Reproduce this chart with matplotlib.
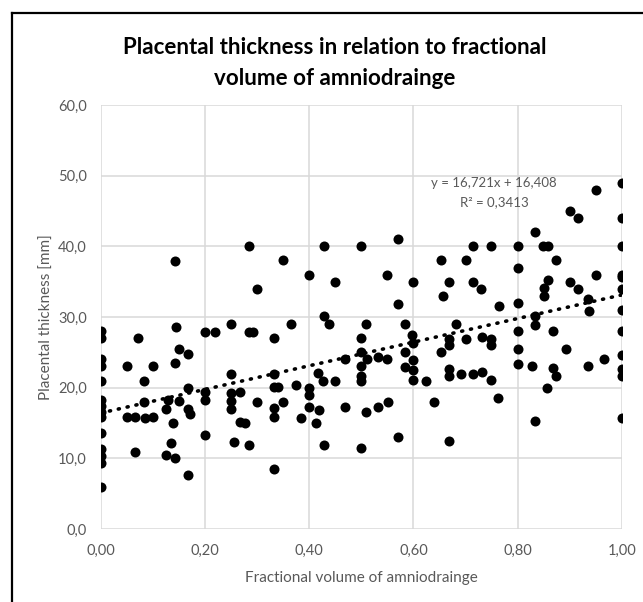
import numpy as np
import matplotlib.pyplot as plt
from matplotlib.lines import Line2D

plt.rcParams['font.family'] = ['Lato', 'DejaVu Sans']

# fractional volume of amniodrainage (x) and placental thickness in mm (y)
frac_volume = [
    0.0, 0.0, 0.0, 0.0, 0.0, 0.0, 0.0, 0.0, 0.0, 0.0, 0.0, 0.0, 0.0, 0.0,
    0.05, 0.05, 0.066, 0.066, 0.072, 0.083, 0.083, 0.085, 0.1, 0.1,
    0.125, 0.125, 0.13, 0.134, 0.138, 0.143, 0.143, 0.143, 0.145, 0.15, 0.15,
    0.167, 0.167, 0.167, 0.172, 0.167,
    0.2, 0.2, 0.2, 0.2, 0.219, 0.25, 0.25, 0.25, 0.25, 0.25, 0.256,
    0.267, 0.267, 0.276, 0.285, 0.285, 0.292, 0.285, 0.3, 0.3,
    0.333, 0.333, 0.333, 0.34, 0.333, 0.333, 0.333, 0.35, 0.35, 0.365, 0.375, 0.384,
    0.4, 0.4, 0.4, 0.4, 0.413, 0.417, 0.418, 0.426, 0.429, 0.429, 0.429, 0.438,
    0.45, 0.45, 0.468, 0.468,
    0.5, 0.5, 0.5, 0.5, 0.5, 0.5, 0.5, 0.508, 0.51, 0.508,
    0.532, 0.532, 0.55, 0.55, 0.552, 0.571, 0.571, 0.571, 0.583, 0.584, 0.584,
    0.597, 0.6, 0.6, 0.6, 0.6, 0.6, 0.625, 0.639,
    0.652, 0.652, 0.656, 0.668, 0.668, 0.668, 0.668, 0.668, 0.668, 0.682, 0.691,
    0.701, 0.701, 0.715, 0.715, 0.715, 0.73, 0.732, 0.732,
    0.748, 0.748, 0.748, 0.748, 0.763, 0.765,
    0.8, 0.8, 0.8, 0.8, 0.8, 0.8, 0.827, 0.834, 0.834, 0.834, 0.834,
    0.85, 0.85, 0.848, 0.858, 0.858, 0.857, 0.868, 0.868, 0.874, 0.873, 0.892,
    0.9, 0.9, 0.916, 0.916, 0.934, 0.937, 0.934, 0.95, 0.95, 0.966,
    1.0, 1.0, 1.0, 1.0, 1.0, 1.0, 1.0, 1.0, 1.0, 1.0, 1.0, 1.0,
]
thickness = [
    28.0, 27.0, 24.0, 23.1, 21.0, 18.2, 17.4, 16.6, 15.9, 13.6, 11.3, 10.3, 9.4, 5.9,
    23.1, 15.9, 15.9, 10.9, 27.0, 21.0, 18.0, 15.7, 23.1, 15.9,
    17.0, 10.4, 18.3, 12.1, 15.0, 37.9, 23.5, 10.0, 28.6, 25.5, 18.1,
    24.7, 20.0, 17.0, 16.3, 7.6,
    27.9, 19.4, 18.3, 13.3, 27.9, 29.0, 22.0, 19.3, 18.1, 17.0, 12.3,
    19.4, 15.1, 15.0, 40.0, 27.9, 27.9, 11.9, 34.0, 18.0,
    27.0, 22.0, 20.1, 20.1, 17.1, 15.9, 8.5, 38.0, 18.0, 29.0, 20.4, 15.7,
    36.0, 19.9, 18.9, 17.3, 15.0, 22.1, 16.9, 21.0, 40.0, 30.2, 11.9, 29.0,
    35.0, 21.0, 24.0, 17.2,
    40.0, 27.0, 25.0, 23.0, 21.7, 21.0, 11.4, 29.0, 24.0, 16.5,
    24.4, 17.2, 36.0, 24.0, 18.0, 41.0, 31.8, 13.0, 29.0, 25.0, 22.9,
    27.4, 34.9, 26.3, 23.9, 22.5, 21.1, 21.0, 17.9,
    38.0, 25.0, 33.0, 34.9, 26.9, 26.0, 22.7, 21.6, 12.4, 29.0, 22.0,
    38.0, 26.9, 40.0, 34.9, 22.0, 34.0, 27.2, 22.2,
    40.0, 26.9, 26.0, 21.1, 18.6, 31.6,
    40.0, 37.0, 32.0, 28.0, 25.4, 23.4, 23.0, 42.0, 30.1, 28.9, 15.3,
    34.1, 32.9, 40.0, 40.0, 35.3, 20.0, 28.0, 22.8, 21.6, 38.0, 25.4,
    45.0, 34.9, 44.0, 34.0, 32.5, 30.9, 23.0, 48.0, 36.0, 24.0,
    49.0, 44.0, 40.0, 36.0, 35.6, 34.0, 31.0, 28.0, 24.6, 22.6, 21.6, 15.7,
]

# Excel linear trendline
slope = 16.721
intercept = 16.408
r_squared = 0.3413

x_ticks = [0.0, 0.2, 0.4, 0.6, 0.8, 1.0]
y_ticks = [0, 10, 20, 30, 40, 50, 60]

gray = '#595959'

fig = plt.figure(figsize=(6.43, 6.02), dpi=100)
ax = fig.add_axes([0.1566, 0.1213, 0.8107, 0.7043])

ax.scatter(frac_volume, thickness, s=52, color='black', zorder=3, linewidths=0)

xs = np.array([0.0, 1.0])
ax.plot(xs, slope * xs + intercept, color='black', lw=2.6,
        linestyle=(0, (0.3, 2.2)), dash_capstyle='round', zorder=2)

ax.set_xlim(0, 1)
ax.set_ylim(0, 60)
ax.set_xticks(x_ticks)
ax.set_yticks(y_ticks)
ax.set_xticklabels([f'{t:.2f}'.replace('.', ',') for t in x_ticks])
ax.set_yticklabels([f'{t:.1f}'.replace('.', ',') for t in y_ticks])
ax.tick_params(length=0, labelsize=10.5, labelcolor=gray)
ax.tick_params(axis='x', pad=11)
ax.tick_params(axis='y', pad=10)
ax.grid(True, color='#d9d9d9', lw=1.1, zorder=0)
ax.set_axisbelow(True)
for sp in ax.spines.values():
    sp.set_visible(False)

ax.set_xlabel('Fractional volume of amniodrainge', fontsize=11, color=gray, labelpad=9)
ax.set_ylabel('Placental thickness [mm]', fontsize=11, color=gray, labelpad=3)

fig.text(0.52, 0.896, 'Placental thickness in relation to fractional\nvolume of amniodrainge',
         ha='center', va='center', fontsize=16.1, fontweight='bold', linespacing=1.6)

ax.text(0.755, 48.9, 'y = 16,721x + 16,408', ha='center', va='center', fontsize=9.5, color=gray)
ax.text(0.755, 46.3, f'R² = {r_squared:.4f}'.replace('.', ','), ha='center', va='center',
        fontsize=9.5, color=gray)

# chart frame (only left and top edges fall inside the crop)
fig.add_artist(Line2D([12 / 643, 12 / 643], [0, 1 - 13 / 602], color='black', lw=1.6))
fig.add_artist(Line2D([12 / 643, 1], [1 - 13 / 602, 1 - 13 / 602], color='black', lw=1.6))

plt.savefig('out.png', dpi=100)
